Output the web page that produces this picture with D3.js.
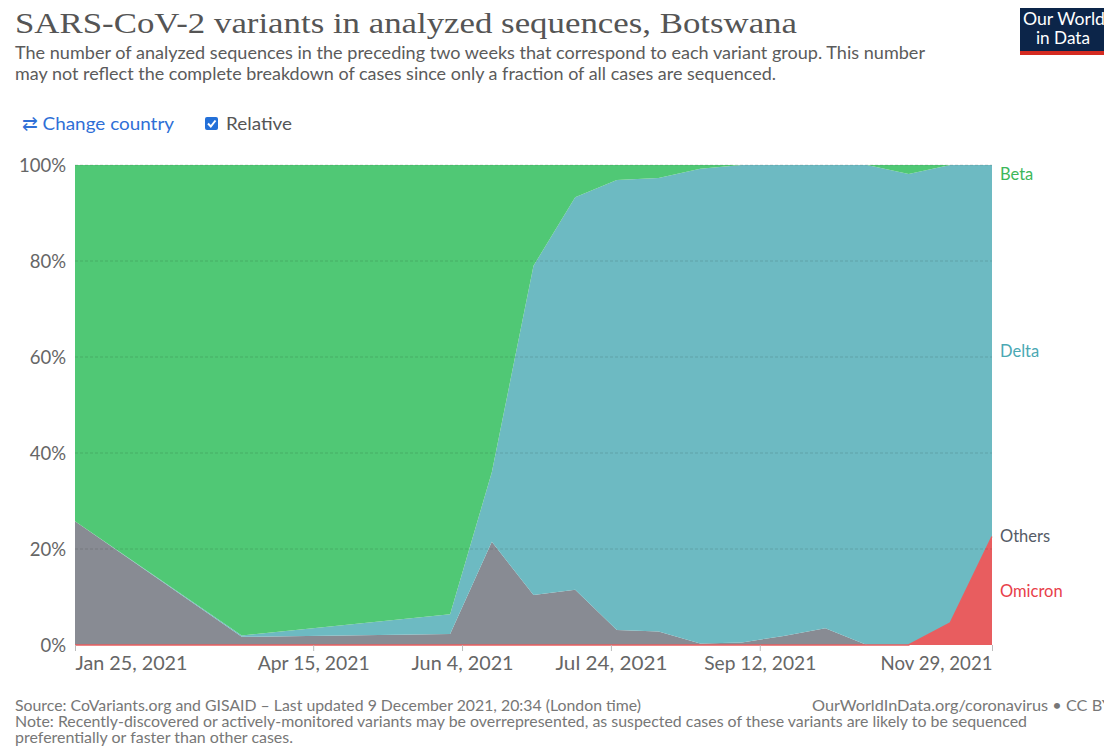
<!DOCTYPE html>
<html>
<head>
<meta charset="utf-8">
<script src="https://cdn.jsdelivr.net/npm/d3@7"></script>
<style>
  body { margin: 0; background: #fff; }
  svg { display: block; font-family: Lato, "Noto Sans", sans-serif; }
</style>
</head>
<body>
<div id="chart"></div>
<script>
// biweekly sample dates (gaps in the source are joined by straight lines)
const dates = ["2021-01-25", "2021-03-22", "2021-05-31", "2021-06-14", "2021-06-28", "2021-07-12",
    "2021-07-26", "2021-08-09", "2021-08-23", "2021-09-06", "2021-09-20", "2021-10-04",
    "2021-10-18", "2021-11-01", "2021-11-15", "2021-11-29"];

// share of sequences, percent
const omicron = [0, 0, 0, 0, 0, 0, 0, 0, 0, 0, 0, 0, 0, 0, 4.6, 22.6];
const others = [25.8, 1.7, 2.3, 21.5, 10.4, 11.5, 3.1, 2.8, 0.3, 0.5, 1.9, 3.5, 0, 0, 0, 0];
const delta = [0, 0.3, 4.1, 14.5, 68.6, 81.8, 93.8, 94.5, 98.9, 99.5, 98.1, 96.5, 100, 98.1, 95.4, 77.4];
const beta = [74.2, 98, 93.6, 64, 21, 6.7, 3.1, 2.7, 0.8, 0, 0, 0, 0, 1.9, 0, 0];

const seriesNames = ["Omicron", "Others", "Delta", "Beta"];
const yTicks = [0, 20, 40, 60, 80, 100];
const xTickDates = ["2021-01-25", "2021-04-15", "2021-06-04", "2021-07-24", "2021-09-12", "2021-11-29"];

const colors = { Omicron: "#e85d5f", Others: "#888b93", Delta: "#6dbac2", Beta: "#50c875" };
const labelColors = { Omicron: "#e8404a", Others: "#555b66", Delta: "#4aa8b3", Beta: "#3cb75a" };

const width = 1104, height = 751;
const margin = { top: 165, right: 112, bottom: 106, left: 75 };

const parse = d3.timeParse("%Y-%m-%d");
const fmt = d3.timeFormat("%b %-d, %Y");

const rows = dates.map((d, i) => ({
    date: parse(d),
    Omicron: omicron[i], Others: others[i], Delta: delta[i], Beta: beta[i]
}));

const svg = d3.select("#chart").append("svg")
    .attr("width", width)
    .attr("height", height);

const x = d3.scaleTime()
    .domain(d3.extent(rows, d => d.date))
    .range([margin.left, width - margin.right]);

const y = d3.scaleLinear()
    .domain([0, 100])
    .range([height - margin.bottom, margin.top]);

const stacked = d3.stack().keys(seriesNames)(rows);

const area = d3.area()
    .x(d => x(d.data.date))
    .y0(d => y(d[0]))
    .y1(d => y(d[1]));

svg.append("g")
    .selectAll("path")
    .data(stacked)
    .join("path")
    .attr("d", area)
    .attr("fill", d => colors[d.key]);

// zero-height omicron band still shows as a thin line
svg.append("path")
    .attr("d", d3.line().x(d => x(d.data.date)).y(d => y(d[1]))(stacked[0]))
    .attr("fill", "none")
    .attr("stroke", colors.Omicron)
    .attr("stroke-width", 1.5);

// gridlines on top
svg.append("g")
    .selectAll("line")
    .data(yTicks.filter(t => t > 0))
    .join("line")
    .attr("x1", margin.left)
    .attr("x2", width - margin.right)
    .attr("y1", d => y(d))
    .attr("y2", d => y(d))
    .attr("stroke", "rgba(0,0,0,0.13)")
    .attr("stroke-dasharray", "3,2");

svg.append("line")
    .attr("x1", width - margin.right + 0.5)
    .attr("x2", width - margin.right + 0.5)
    .attr("y1", margin.top)
    .attr("y2", height - margin.bottom)
    .attr("stroke", "rgba(255,255,255,0.5)");

// Y axis
const yAxis = svg.append("g")
    .attr("transform", `translate(${margin.left - 9}, 0)`)
    .call(d3.axisLeft(y).tickValues(yTicks).tickSize(0).tickPadding(0).tickFormat(d => d + "%"));
yAxis.select(".domain").remove();
yAxis.selectAll("text")
    .attr("fill", "#666")
    .style("font-size", "18.5px")
    .style("font-family", "Lato, sans-serif")
    .attr("dy", "0.34em");

// X axis
const xTicks = xTickDates.map(parse);
const xAxis = svg.append("g")
    .attr("transform", `translate(0, ${height - margin.bottom})`)
    .call(d3.axisBottom(x).tickValues(xTicks).tickSize(6).tickPadding(6).tickFormat(fmt));
xAxis.select(".domain").remove();
xAxis.selectAll("line").attr("stroke", "#bbb");
xAxis.selectAll("text")
    .attr("fill", "#666")
    .style("font-size", "18.5px")
    .style("font-family", "Lato, sans-serif")
    .attr("textLength", 112)
    .attr("lengthAdjust", "spacingAndGlyphs")
    .attr("text-anchor", (d, i) => i === 0 ? "start" : (i === xTicks.length - 1 ? "end" : "middle"));
// shorter label for Jun 4
xAxis.selectAll("text").filter(d => d.getMonth() === 5).attr("textLength", 102);

// series labels at the right end
const last = rows.length - 1;
const labels = stacked.map(s => ({
    key: s.key,
    y: y((s[last][0] + s[last][1]) / 2)
}));
labels.forEach(l => { l.y = Math.max(l.y, margin.top + 9); });

svg.append("g")
    .selectAll("text")
    .data(labels)
    .join("text")
    .attr("x", width - margin.right + 8)
    .attr("y", d => d.y)
    .attr("dy", "0.35em")
    .attr("fill", d => labelColors[d.key])
    .style("font-size", "16.5px")
    .text(d => d.key);

// header
svg.append("text")
    .attr("x", 15).attr("y", 33)
    .attr("fill", "#555")
    .style("font-family", "'Liberation Serif', 'DejaVu Serif', serif")
    .style("font-size", "30px")
    .attr("textLength", 782)
    .attr("lengthAdjust", "spacingAndGlyphs")
    .text("SARS-CoV-2 variants in analyzed sequences, Botswana");

const subtitle = [
    "The number of analyzed sequences in the preceding two weeks that correspond to each variant group. This number",
    "may not reflect the complete breakdown of cases since only a fraction of all cases are sequenced."
];
const subLens = [910, 761];
svg.append("g")
    .selectAll("text")
    .data(subtitle)
    .join("text")
    .attr("x", 15)
    .attr("y", (d, i) => 59 + i * 21)
    .attr("fill", "#5b5b5b")
    .style("font-size", "16.5px")
    .attr("textLength", (d, i) => subLens[i])
    .attr("lengthAdjust", "spacingAndGlyphs")
    .text(d => d);

// controls
svg.append("text")
    .attr("x", 22).attr("y", 130)
    .attr("fill", "#2f6fd6")
    .style("font-size", "18px")
    .attr("textLength", 152)
    .attr("lengthAdjust", "spacingAndGlyphs")
    .text("\u21c4 Change country");

svg.append("rect")
    .attr("x", 205).attr("y", 117).attr("width", 13).attr("height", 13)
    .attr("rx", 2)
    .attr("fill", "#2470d8");
svg.append("path")
    .attr("d", "M208 123.5 L210.8 126.5 L215.5 120.5")
    .attr("fill", "none").attr("stroke", "#fff").attr("stroke-width", 2);
svg.append("text")
    .attr("x", 226).attr("y", 130)
    .attr("fill", "#555")
    .style("font-size", "18px")
    .attr("textLength", 66)
    .attr("lengthAdjust", "spacingAndGlyphs")
    .text("Relative");

// logo
svg.append("rect").attr("x", 1020).attr("y", 8).attr("width", 84).attr("height", 44).attr("fill", "#0c2549");
svg.append("rect").attr("x", 1020).attr("y", 51).attr("width", 84).attr("height", 4).attr("fill", "#d42b21");
svg.append("text").attr("x", 1023).attr("y", 25)
    .attr("fill", "#fff").style("font-size", "16.5px")
    .attr("textLength", 82).attr("lengthAdjust", "spacingAndGlyphs").text("Our World");
svg.append("text").attr("x", 1036).attr("y", 44)
    .attr("fill", "#fff").style("font-size", "16.5px")
    .attr("textLength", 54).attr("lengthAdjust", "spacingAndGlyphs").text("in Data");

// footer
const footer = [
    { x: 15, y: 711, len: 626, t: "Source: CoVariants.org and GISAID \u2013 Last updated 9 December 2021, 20:34 (London time)" },
    { x: 812, y: 711, len: 300, t: "OurWorldInData.org/coronavirus \u2022 CC BY" },
    { x: 15, y: 727, len: 1012, t: "Note: Recently-discovered or actively-monitored variants may be overrepresented, as suspected cases of these variants are likely to be sequenced" },
    { x: 15, y: 743, len: 278, t: "preferentially or faster than other cases." }
];
svg.append("g")
    .selectAll("text")
    .data(footer)
    .join("text")
    .attr("x", d => d.x)
    .attr("y", d => d.y)
    .attr("fill", "#777")
    .style("font-size", "15px")
    .attr("textLength", d => d.len)
    .attr("lengthAdjust", "spacingAndGlyphs")
    .text(d => d.t);
</script>
</body>
</html>
